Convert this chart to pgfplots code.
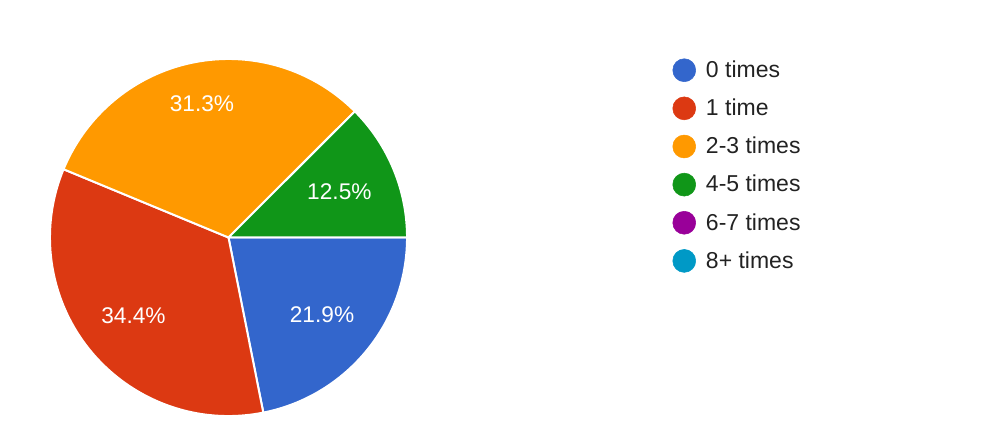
\documentclass[border=0pt]{standalone}
\usepackage{pgfplots}
\pgfplotsset{compat=1.18}
\usepackage{pgfplotstable}
\usepackage{fontspec}
\setmainfont{Liberation Sans}
\definecolor{c0}{HTML}{3366CC}
\definecolor{c1}{HTML}{DC3912}
\definecolor{c2}{HTML}{FF9900}
\definecolor{c3}{HTML}{109618}
\definecolor{c4}{HTML}{990099}
\definecolor{c5}{HTML}{0099C6}
\definecolor{legtext}{HTML}{222222}

% idx, percentage, label distance from centre (px)
\pgfplotstableread{
idx pct lr
0 21.9 121
1 34.4 123
2 31.3 136
3 12.5 120
4 0 0
5 0 0
}\piedata
\pgfplotstablecreatecol[create col/expr accum={\pgfmathaccuma + \thisrow{pct}}{0}]{cum}{\piedata}

\newcommand\pieR{133.9pt}
\pgfdeclareplotmark{pieslice}{%
  \pgfmathtruncatemacro\ci{\idx}%
  \pgfpathmoveto{\pgfpointorigin}%
  \pgfpathlineto{\pgfpointpolar{\sa}{\pieR}}%
  \pgfpatharc{\sa}{\ea}{\pieR}%
  \pgfpathclose
  \pgfsetfillcolor{c\ci}%
  \pgfsetstrokecolor{white}%
  \pgfsetlinewidth{1.5pt}%
  \pgfsetroundjoin
  \pgfusepath{fill,stroke}%
  \pgftext[at=\pgfpointpolar{\ma}{\lr pt}]{\color{white}\fontsize{17}{19}\selectfont \pgfmathprintnumber[fixed,precision=1,fixed zerofill,assume math mode=true]{\pctv}\%}%
}

\begin{document}
\begin{tikzpicture}
\begin{axis}[
  scale only axis,
  width=738pt, height=328.5pt,
  xmin=0, xmax=984, ymin=0, ymax=438,
  hide axis, clip=false,
  after end axis/.code={\path (rel axis cs:0,0) (rel axis cs:1,1);},
  legend style={at={(axis cs:672.5,379.5)}, anchor=north west,
    draw=none, fill=none, inner sep=0pt, outer sep=0pt,
    row sep=11.0pt, /tikz/column sep=7.5pt,
    font=\fontsize{17.25}{19}\selectfont, text=legtext,
    nodes={inner sep=0pt}},
  legend cell align=left,
]
\addplot[forget plot, only marks, mark=pieslice,
  restrict expr to domain={\thisrow{pct}}{0.001:1000},
  visualization depends on={\thisrow{idx} \as \idx},
  visualization depends on={\thisrow{pct} \as \pctv},
  visualization depends on={-(\thisrow{cum}-\thisrow{pct})*360/100.1 \as \sa},
  visualization depends on={-\thisrow{cum}*360/100.1 \as \ea},
  visualization depends on={-(\thisrow{cum}-0.5*\thisrow{pct})*360/100.1 \as \ma},
  visualization depends on={\thisrow{lr}*0.75 \as \lr},
] table[x expr=228.5, y expr=200.5] {\piedata};
\addlegendimage{legend image code/.code={\fill[c0] (0pt,0pt) circle (8.6pt);}}
\addlegendimage{legend image code/.code={\fill[c1] (0pt,0pt) circle (8.6pt);}}
\addlegendimage{legend image code/.code={\fill[c2] (0pt,0pt) circle (8.6pt);}}
\addlegendimage{legend image code/.code={\fill[c3] (0pt,0pt) circle (8.6pt);}}
\addlegendimage{legend image code/.code={\fill[c4] (0pt,0pt) circle (8.6pt);}}
\addlegendimage{legend image code/.code={\fill[c5] (0pt,0pt) circle (8.6pt);}}
\legend{0 times, 1 time, 2-3 times, 4-5 times, 6-7 times, 8+ times}
\end{axis}
\end{tikzpicture}
\end{document}
